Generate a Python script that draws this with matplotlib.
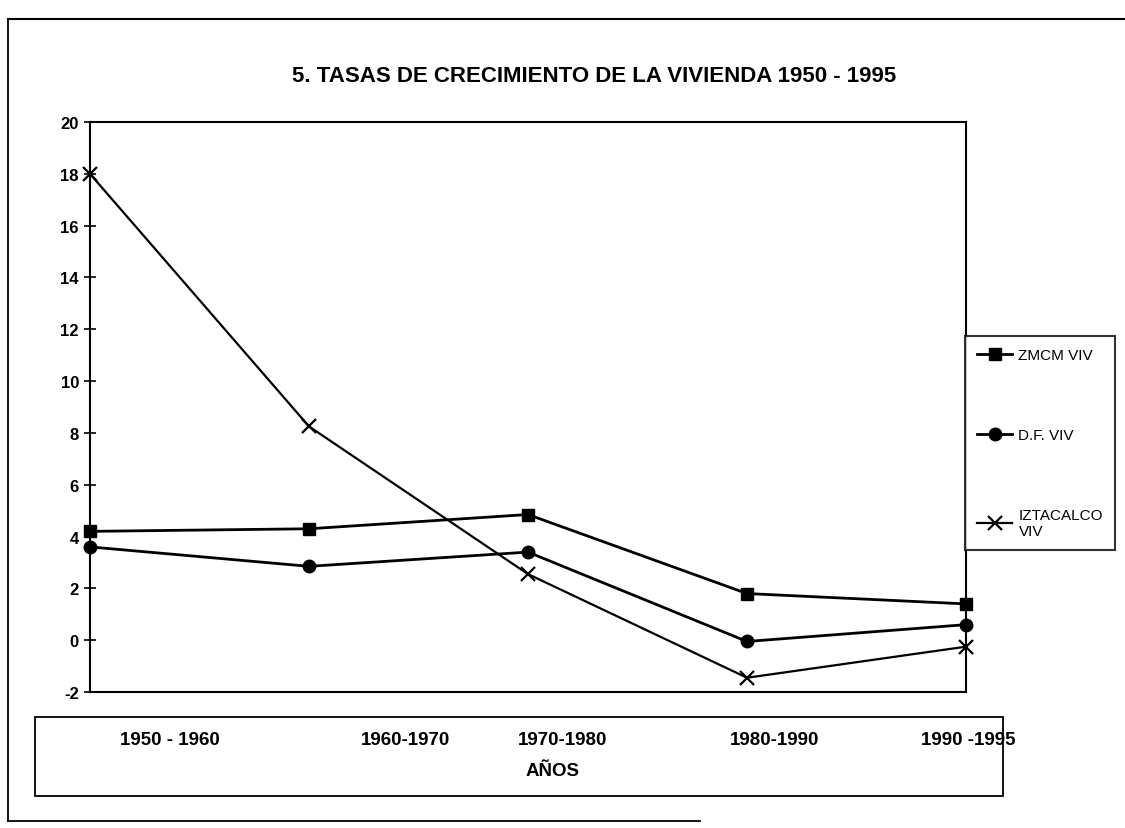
import matplotlib
matplotlib.use("Agg")
import matplotlib.pyplot as plt
from matplotlib.lines import Line2D
from matplotlib.patches import Rectangle

plt.rcParams['font.family'] = ['Liberation Sans', 'DejaVu Sans']

# data
periods = ['1950 - 1960', '1960-1970', '1970-1980', '1980-1990', '1990 -1995']
zmcm_viv = [4.2, 4.3, 4.85, 1.8, 1.4]
df_viv = [3.6, 2.85, 3.4, -0.05, 0.6]
iztacalco_viv = [18.0, 8.25, 2.55, -1.45, -0.25]
y_ticks = list(range(-2, 21, 2))

W, H = 1125, 829
fig = plt.figure(figsize=(W / 100, H / 100), dpi=100)


def fx(px):
    return px / W


def fy(py):
    return 1 - py / H


# plot area
ax = fig.add_axes([fx(90), fy(693), fx(966) - fx(90), fy(123) - fy(693)])
x = list(range(len(periods)))

ax.plot(x, zmcm_viv, color='black', lw=2.0, marker='s', ms=9,
        clip_on=False, zorder=3, label='ZMCM VIV')
ax.plot(x, df_viv, color='black', lw=2.0, marker='o', ms=9,
        clip_on=False, zorder=3, label='D.F. VIV')
ax.plot(x, iztacalco_viv, color='black', lw=1.6, marker='x', ms=10, mew=1.6,
        clip_on=False, zorder=3, label='IZTACALCO\nVIV')

ax.set_xlim(0, len(periods) - 1)
ax.set_ylim(-2, 20)
ax.set_yticks(y_ticks)
ax.set_yticklabels([str(t) for t in y_ticks], fontsize=12, fontweight='bold')
ax.tick_params(axis='y', direction='inout', length=8, width=1.2, pad=4)
ax.set_xticks([])
for side in ['left', 'bottom', 'top', 'right']:
    ax.spines[side].set_linewidth(1.5)

# legend box to the right of the plot
leg = fig.legend(handles=ax.get_lines(), loc='upper left',
                 bbox_to_anchor=(fx(965), fy(337)), frameon=True,
                 fancybox=False, edgecolor='black', fontsize=11,
                 labelspacing=4.3, handlelength=2.3, handletextpad=0.4,
                 borderpad=0.8, borderaxespad=0)
leg.get_frame().set_linewidth(1.5)

# lower box with the period labels
fig.patches.append(Rectangle((fx(35), fy(797)), fx(1003) - fx(35), fy(718) - fy(797),
                             transform=fig.transFigure, fill=False,
                             edgecolor='black', lw=1.3))
label_x = [170, 405, 563, 775, 968]
for px, lab in zip(label_x, periods):
    fig.text(fx(px), fy(741), lab, ha='center', va='center',
             fontsize=13.5, fontweight='bold')
fig.text(fx(553), fy(772), 'AÑOS', ha='center', va='center',
         fontsize=13.5, fontweight='bold')

# outer frame of the scanned page
fig.add_artist(Line2D([fx(8), fx(1125)], [fy(20), fy(20)], transform=fig.transFigure,
                      color='black', lw=1.5))
fig.add_artist(Line2D([fx(8), fx(8)], [fy(20), fy(822)], transform=fig.transFigure,
                      color='black', lw=1.3))
fig.add_artist(Line2D([fx(8), fx(700)], [fy(822), fy(822)], transform=fig.transFigure,
                      color='black', lw=1.3))

fig.text(fx(594), fy(77), '5. TASAS DE CRECIMIENTO DE LA VIVIENDA 1950 - 1995',
         ha='center', va='center', fontsize=16, fontweight='bold')

fig.savefig('out.png', dpi=100)
